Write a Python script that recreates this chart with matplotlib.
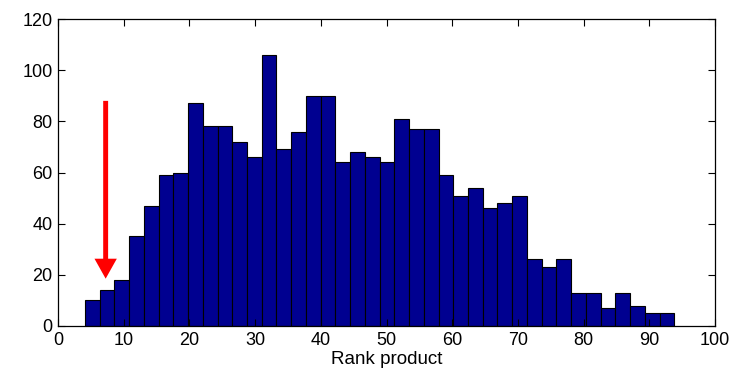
import numpy as np
import matplotlib
matplotlib.use("Agg")
import matplotlib.pyplot as plt

# histogram of rank products, 40 bins
counts = [10, 14, 18, 35, 47, 59, 60, 87, 78, 78,
          72, 66, 106, 69, 76, 90, 90, 64, 68, 66,
          64, 81, 77, 77, 59, 51, 54, 46, 48, 51,
          26, 23, 26, 13, 13, 7, 13, 8, 5, 5]
range_lo = 4.1
range_hi = 93.8

x_ticks = list(range(0, 101, 10))
y_ticks = list(range(0, 121, 20))

# arrow pointing at the low-rank bins
arrow_x = 7.25
arrow_top = 88
arrow_tip = 18.5

plt.rcParams["font.family"] = ["Liberation Sans", "DejaVu Sans"]

fig = plt.figure(figsize=(7.42, 3.78), dpi=100)
ax = fig.add_axes([0.0782, 0.1376, 0.8854, 0.8121])

edges = np.linspace(range_lo, range_hi, len(counts) + 1)
ax.bar(edges[:-1], counts, width=np.diff(edges), align="edge",
       color="#000090", edgecolor="black", linewidth=0.8)

ax.arrow(arrow_x, arrow_top, 0, arrow_tip - arrow_top, width=0.75,
         head_width=3.4, head_length=7.8, length_includes_head=True,
         color="red", linewidth=0)

ax.set_xlim(0, 100)
ax.set_ylim(0, 120)
ax.set_xticks(x_ticks)
ax.set_yticks(y_ticks)
ax.tick_params(direction="in", length=5, width=0.8, top=True, right=True,
               labelsize=13, pad=4)
for side in ax.spines.values():
    side.set_linewidth(0.9)
ax.set_xlabel("Rank product", fontsize=13.5, labelpad=2)

fig.savefig("out.png", dpi=100)
